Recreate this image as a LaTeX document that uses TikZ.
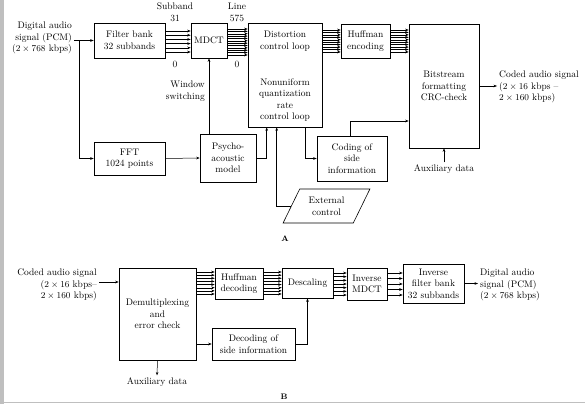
\documentclass[tikz,border=0pt]{standalone}
\usepackage{tikz}
\usetikzlibrary{arrows.meta,positioning,calc,shapes.geometric}
\tikzset{
  >={Stealth[length=3.5pt,width=2.6pt]},
  every node/.style={font=\fontsize{9.5}{11.6}\selectfont},
  blk/.style={draw=black,line width=0.6pt,fill=white,align=center,inner sep=1pt},
  txt/.style={align=center,inner sep=2pt},
  flow/.style={->,line width=0.5pt},
  bus/.style={->,line width=0.4pt},
  tag/.style={font=\fontsize{8}{9}\selectfont\bfseries,inner sep=1pt},
}

\begin{document}
\begin{tikzpicture}[x=1pt,y=-1pt]
  \useasboundingbox (0,0) rectangle (585,404);
  % edge of the scanned page
  \fill[black!25] (0,0) rectangle (3.5,404);
  \fill[black!25] (0,401.5) rectangle (585,403);

  % ---------------- A: encoder ----------------
  \node[txt,anchor=east,align=right] (inA) at (74,38) {Digital audio\\signal (PCM)\\($2\times768$ kbps)};
  \node[blk,minimum width=71pt,minimum height=35pt] (fb)   at (129.5,40.5) {Filter bank\\32 subbands};
  \node[blk,minimum width=36pt,minimum height=35pt] (mdct) at (209,40.5)   {MDCT};
  \node[blk,minimum width=74pt,minimum height=104pt] (dist) at (285,75) {};
  \node[txt] (distT) at (285,41)  {Distortion\\control loop};
  \node[txt] (distB) at (285,100) {Nonuniform\\quantization\\rate\\control loop};
  \node[blk,minimum width=49pt,minimum height=34pt] (huf)  at (365.5,41) {Huffman\\encoding};
  \node[blk,minimum width=70pt,minimum height=124pt] (bits) at (444,86) {Bitstream\\formatting\\CRC-check};
  \node[txt,anchor=west,align=left] (outA) at (497,87) {Coded audio signal\\($2\times16$ kbps --\\$2\times160$ kbps)};

  \node[blk,minimum width=71pt,minimum height=33pt] (fft)  at (129.5,158.5) {FFT\\1024 points};
  \node[blk,minimum width=56pt,minimum height=48pt] (psy)  at (228,158)     {Psycho-\\acoustic\\model};
  \node[blk,minimum width=70pt,minimum height=45pt] (side) at (352,158.5)   {Coding of\\side\\information};
  \node[blk,trapezium,trapezium left angle=60,trapezium right angle=120,trapezium stretches=true,
        minimum width=87pt,minimum height=34pt] (ext) at (326.5,206) {External\\control};
  \node[txt] (auxA) at (444,169) {Auxiliary data};

  % bus labels
  \node[txt] (sbhi) at (175,12.5) {Subband\\31};
  \node[txt] (sblo) at (175,64)   {0};
  \node[txt] (lnhi) at (237,12.5) {Line\\575};
  \node[txt] (lnlo) at (237,64)   {0};
  \node[txt,anchor=east,align=right] (win) at (207,91) {Window\\switching};
  \node[tag] (labA) at (285,239) {A};

  % flows
  \draw[flow] (inA.east |- fb.west) -- (fb.west);
  \coordinate (spl) at (79,40.5);
  \draw[flow] (spl) |- (fft.west);
  \draw[flow] (fft.east) -- (psy.west);
  \draw[flow] (psy.north -| mdct.south) -- (mdct.south);
  \draw[flow] (psy.east) -| ([xshift=19pt]dist.south west);
  \draw[flow] (ext.west) -| ([xshift=29pt]dist.south west);
  \draw[flow] ([xshift=-17pt]dist.south east) |- (side.west);
  \draw[flow] ([xshift=-2pt]side.north) |- ([yshift=-35pt]bits.west);
  \draw[flow] (auxA.north) -- (bits.south);
  \draw[flow] (bits.east) -- (bits.east -| outA.west);

  % parallel buses
  \foreach \d in {-9.5,-5.3,-1.1,3.1,7.3,11.5}
    \draw[bus] ($(fb.east)+(0,\d)$) -- ($(mdct.west)+(0,\d)$);
  \foreach \k in {0,...,11}
    \draw[bus] ($(mdct.east)+(0,{-11.5+2.36*\k})$) -- ($(dist.west |- mdct.east)+(0,{-11.5+2.36*\k})$);
  \foreach \k in {0,...,9}
    \draw[bus] ($(dist.east |- huf.west)+(0,{-11+2.44*\k})$) -- ($(huf.west)+(0,{-11+2.44*\k})$);
  \foreach \k in {0,...,9}
    \draw[bus] ($(huf.east)+(0,{-11+2.44*\k})$) -- ($(bits.west |- huf.east)+(0,{-11+2.44*\k})$);

  % ---------------- B: decoder ----------------
  \node[txt,anchor=east,align=right] (inB) at (99,285) {Coded audio signal\\($2\times16$ kbps--\\$2\times160$ kbps)};
  \node[blk,minimum width=77pt,minimum height=92pt] (demux) at (157.5,314) {Demultiplexing\\and\\error check};
  \node[blk,minimum width=48pt,minimum height=31pt] (hd)    at (239,283.5) {Huffman\\decoding};
  \node[blk,minimum width=51pt,minimum height=30pt] (desc)  at (307.5,283) {Descaling};
  \node[blk,minimum width=40pt,minimum height=32pt] (imdct) at (367,284)   {Inverse\\MDCT};
  \node[blk,minimum width=61pt,minimum height=39pt] (ifb)   at (433.5,283.5) {Inverse\\filter bank\\32 subbands};
  \node[txt,anchor=west,align=left] (outB) at (478,285) {Digital audio\\signal (PCM)\\($2\times768$ kbps)};
  \node[blk,minimum width=83pt,minimum height=32pt] (dsi)   at (253.5,344) {Decoding of\\side information};
  \node[txt] (auxB) at (157,382) {Auxiliary data};
  \node[tag] (labB) at (284,397) {B};

  \draw[flow] ([yshift=3pt]inB.east) -- ([yshift=3pt]inB.east -| demux.west);
  \draw[flow] (demux.east |- dsi.west) -- (dsi.west);
  \draw[flow] (dsi.east) -| (desc.south);
  \draw[flow] (demux.south) -- (auxB.north);
  \draw[flow] (ifb.east) -- (ifb.east -| outB.west);

  \foreach \k in {0,...,7}
    \draw[bus] ($(demux.east |- hd.west)+(0,{-11.5+3.14*\k})$) -- ($(hd.west)+(0,{-11.5+3.14*\k})$);
  \foreach \k in {0,...,7}
    \draw[bus] ($(hd.east)+(0,{-11.5+3.14*\k})$) -- ($(desc.west |- hd.east)+(0,{-11.5+3.14*\k})$);
  \foreach \k in {0,...,6}
    \draw[bus] ($(desc.east)+(0,{-10+3.67*\k})$) -- ($(imdct.west |- desc.east)+(0,{-10+3.67*\k})$);
  \foreach \k in {0,...,4}
    \draw[bus] ($(imdct.east)+(0,{-11+5.5*\k})$) -- ($(ifb.west |- imdct.east)+(0,{-11+5.5*\k})$);
\end{tikzpicture}
\end{document}
